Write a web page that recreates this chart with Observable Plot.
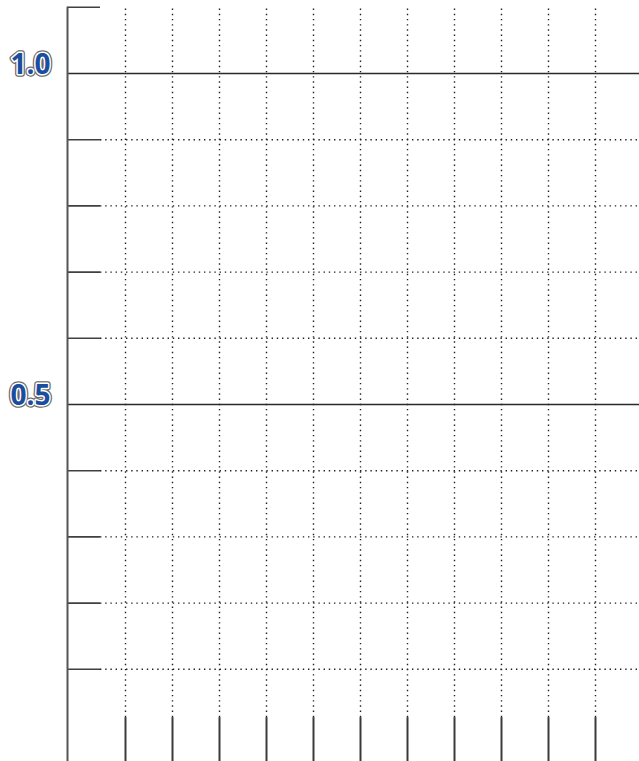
<!DOCTYPE html>
<html>
<head>
<meta charset="utf-8">
<script src="https://cdn.jsdelivr.net/npm/d3@7"></script>
<script src="https://cdn.jsdelivr.net/npm/@observablehq/plot@0.6"></script>
<style>
  html, body { margin: 0; padding: 0; background: #fff; }
  svg { display: block; }
</style>
</head>
<body>
<div id="chart"></div>
<script>
// Data
const xCategories = [1, 2, 3, 4, 5, 6, 7, 8, 9, 10, 11];
const yMinorTicks = [0.1, 0.2, 0.3, 0.4, 0.6, 0.7, 0.8, 0.9];
const yMajorTicks = [0.5, 1.0];
const yTopTick = [1.1];
const yTickLabels = ["0.5", "1.0"];

const labels = yMajorTicks.map((v, i) => ({y: v, label: yTickLabels[i]}));

const labelText = {
  y: "y", text: "label", frameAnchor: "left", dx: 10, dy: -8, textAnchor: "start",
  fontSize: 28, fontWeight: "bold", fontFamily: "Open Sans", letterSpacing: 0
};

const plot = Plot.plot({
  width: 639,
  height: 761,
  margin: 0,
  style: {fontFamily: "Open Sans"},
  x: {domain: [1, 11], range: [125, 595], axis: null},
  y: {domain: [0, 1], range: [735, 73], axis: null},
  marks: [
    // dotted vertical grid
    Plot.ruleX(xCategories, {x: d => d, y1: 0.027, y2: 1.1, stroke: "#222", strokeWidth: 1.4, strokeDasharray: "1.4,3.8"}),
    // solid bottom ticks
    Plot.ruleX(xCategories, {x: d => d, y1: -0.04, y2: 0.027, stroke: "#3a3a3a", strokeWidth: 2}),
    // dotted horizontal grid
    Plot.ruleY(yMinorTicks, {y: d => d, x1: 0.468, x2: 11.94, stroke: "#222", strokeWidth: 1.4, strokeDasharray: "1.4,3.8"}),
    // minor left ticks
    Plot.ruleY(yMinorTicks.concat(yTopTick), {y: d => d, x1: -0.234, x2: 0.468, stroke: "#404040", strokeWidth: 1.6}),
    // major solid lines
    Plot.ruleY(yMajorTicks, {y: d => d, x1: -0.234, x2: 11.94, stroke: "#2a2a2a", strokeWidth: 1.5}),
    // left axis line
    Plot.ruleX([-0.234], {y1: -0.04, y2: 1.1, stroke: "#555", strokeWidth: 2}),
    // tick labels: dark outer outline
    Plot.text(labels, {...labelText, fill: "#777", stroke: "#6a6a6a", strokeWidth: 5.5, strokeLinejoin: "round", ariaLabel: "ylabels-outline"}),
    // tick labels: white outline + blue fill
    Plot.text(labels, {...labelText, fill: "#1b4d9f", stroke: "#ffffff", strokeWidth: 3, strokeLinejoin: "round", paintOrder: "stroke", ariaLabel: "ylabels"})
  ]
});

d3.select(plot).selectAll('g[aria-label="ylabels-outline"] text')
  .style("filter", "blur(0.6px)");

document.getElementById("chart").appendChild(plot);
</script>
</body>
</html>
